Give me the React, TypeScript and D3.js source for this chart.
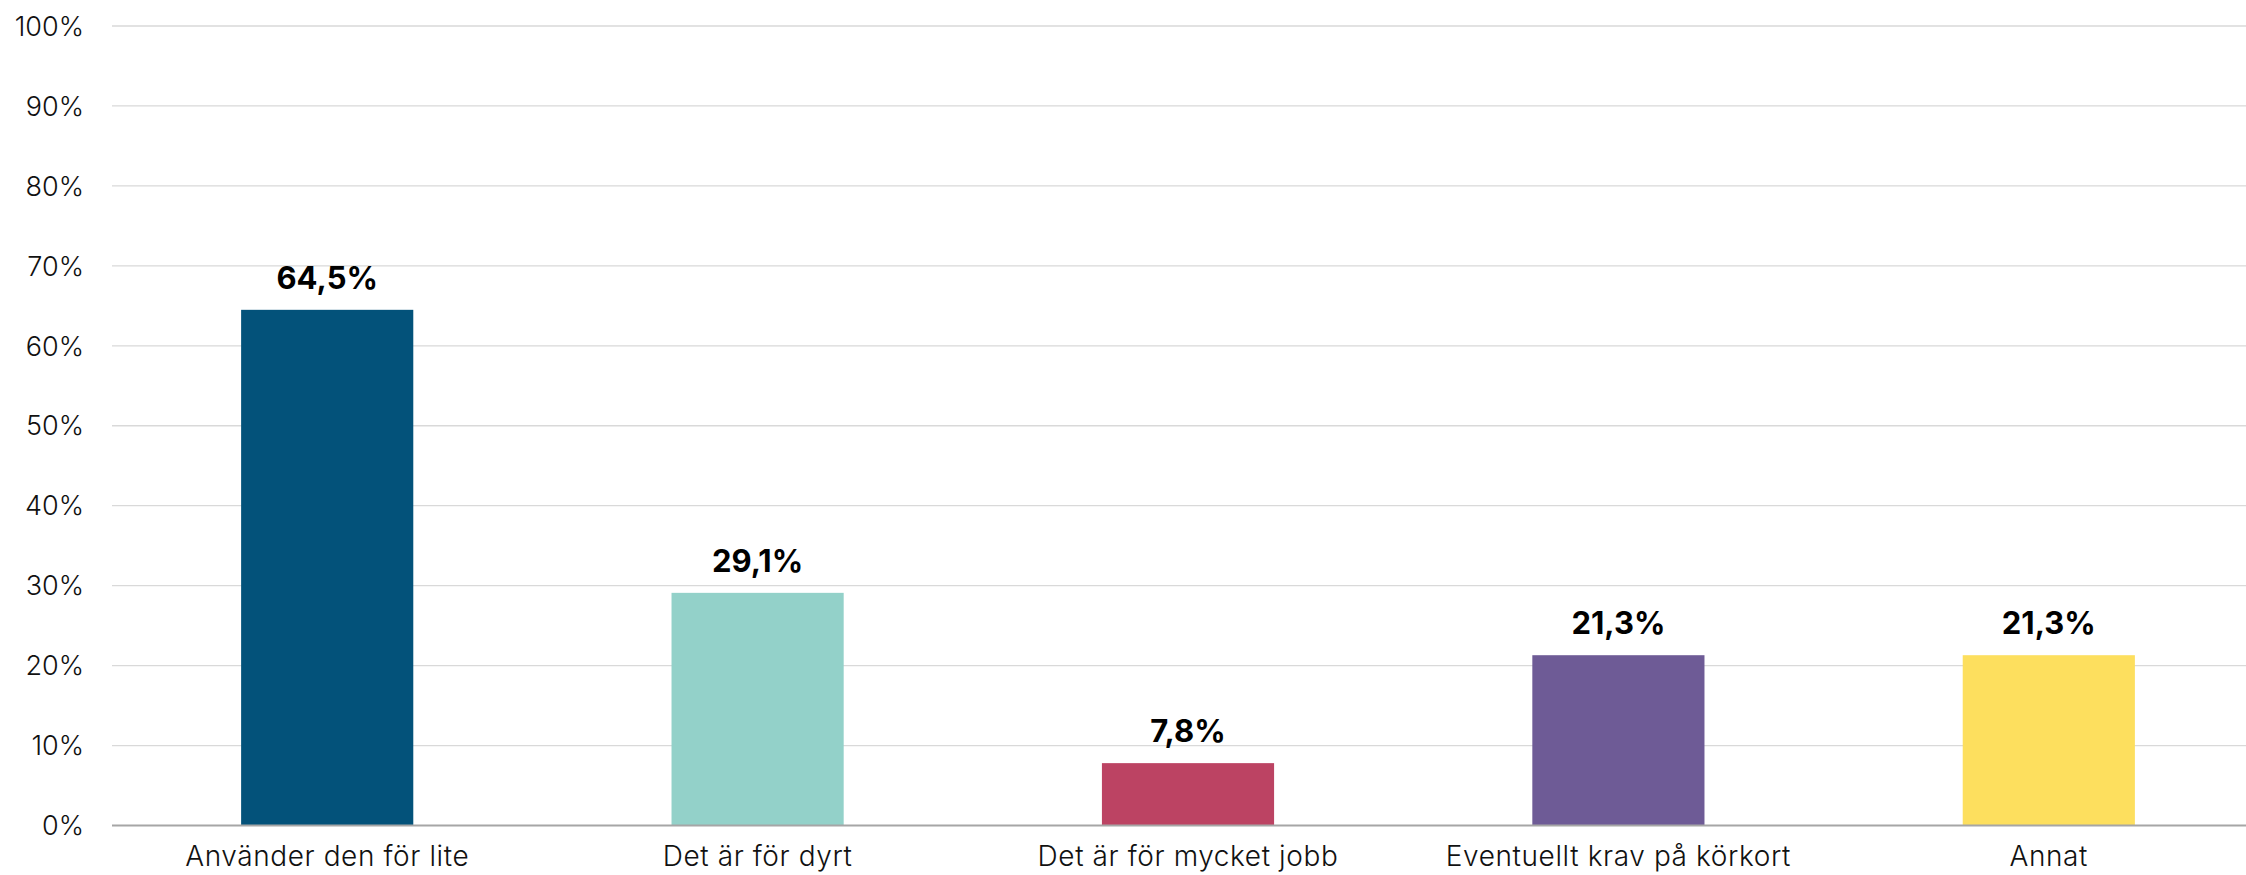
import React from "react";
import * as d3 from "d3";

const categories = [
  "Använder den för lite",
  "Det är för dyrt",
  "Det är för mycket jobb",
  "Eventuellt krav på körkort",
  "Annat",
];
const values = [64.5, 29.1, 7.8, 21.3, 21.3];
const colors = ["#03527A", "#93D1C9", "#BC4363", "#6E5B96", "#FDDF5E"];
const yTicks = [0, 10, 20, 30, 40, 50, 60, 70, 80, 90, 100];

const W = 2246;
const H = 875;
const FONT = "Inter, 'Liberation Sans', Arial, sans-serif";

export default function App() {
  const x = d3
    .scaleBand<string>()
    .domain(categories)
    .range([112, 2264])
    .paddingInner(0.6)
    .paddingOuter(0.3);
  const y = d3.scaleLinear().domain([0, 100]).range([825.5, 26]);
  const fmt = (v: number) => v.toFixed(1).replace(".", ",") + "%";

  return (
    <svg
      width={W}
      height={H}
      style={{ position: "absolute", left: 0, top: 0, background: "#fff" }}
    >
      {yTicks.map((t) => (
        <g key={t}>
          {t > 0 && (
            <line x1={112} x2={W} y1={y(t)} y2={y(t)} stroke="#d9d9d9" strokeWidth={1.3} />
          )}
          <text
            x={84}
            y={y(t)}
            dy="0.36em"
            textAnchor="end"
            fontFamily={FONT}
            fontWeight={300}
            fontSize={27}
            fill="#111"
          >
            {t}%
          </text>
        </g>
      ))}
      {categories.map((c, i) => (
        <g key={c}>
          <rect
            x={x(c)}
            y={y(values[i])}
            width={x.bandwidth()}
            height={y(0) - y(values[i])}
            fill={colors[i]}
          />
          <text
            x={(x(c) as number) + x.bandwidth() / 2}
            y={y(values[i]) - 21}
            textAnchor="middle"
            fontFamily={FONT}
            fontWeight={700}
            fontSize={31}
            fill="#000"
          >
            {fmt(values[i])}
          </text>
          <text
            x={(x(c) as number) + x.bandwidth() / 2}
            y={866}
            textAnchor="middle"
            fontFamily={FONT}
            fontWeight={300}
            fontSize={28}
            letterSpacing={0.6}
            fill="#111"
          >
            {c}
          </text>
        </g>
      ))}
      <line x1={112} x2={W} y1={y(0)} y2={y(0)} stroke="#a6a6a6" strokeWidth={2} />
    </svg>
  );
}
